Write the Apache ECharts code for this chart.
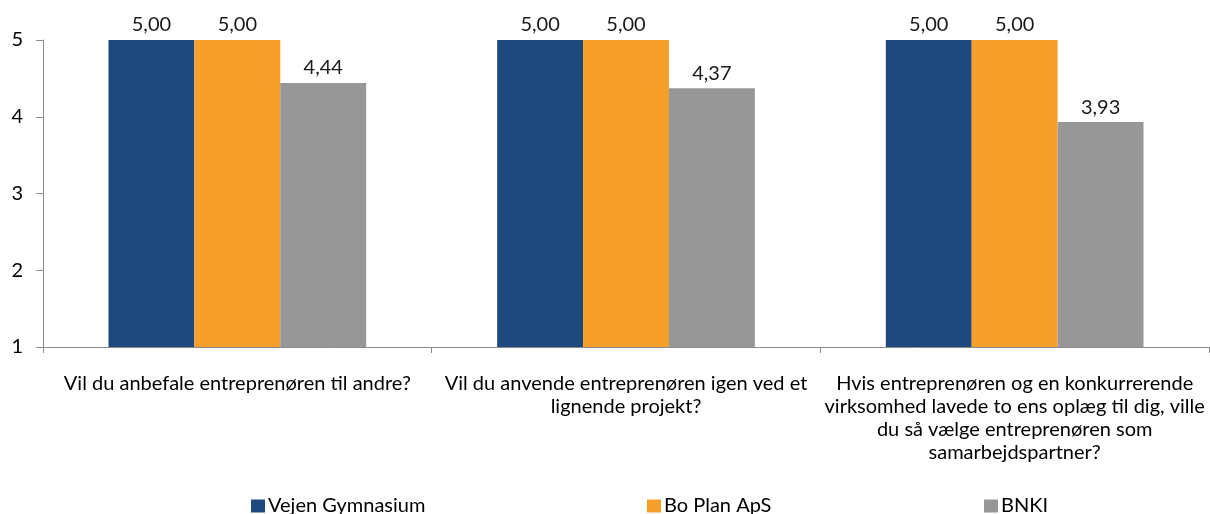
<!DOCTYPE html>
<html lang="da">
<head>
    <meta charset="UTF-8">
    <title>Tilfredshed</title>
    <script type="text/javascript" src="https://cdn.jsdelivr.net/npm/echarts@6/dist/echarts.min.js"></script>
    <style type="text/css">
        html,body{margin:0;padding:0;background:#fff;}
        #main{width:1210px;height:514px;}
    </style>
</head>
<body>
<div id="main"></div>
<script type="text/javascript">
    // spørgsmål (x-akse)
    var categories = [
        'Vil du anbefale entreprenøren til andre?',
        'Vil du anvende entreprenøren igen ved et\nlignende projekt?',
        'Hvis entreprenøren og en konkurrerende\nvirksomhed lavede to ens oplæg til dig, ville\ndu så vælge entreprenøren som\nsamarbejdspartner?'
    ];
    var seriesNames = ['Vejen Gymnasium', 'Bo Plan ApS', 'BNKI'];
    var vejenValues = [5.00, 5.00, 5.00];
    var boPlanValues = [5.00, 5.00, 5.00];
    var bnkiValues = [4.44, 4.37, 3.93];
    var yTicks = [1, 2, 3, 4, 5];

    var colors = ['#1F497D', '#F79F2B', '#979797'];
    var fontName = 'Lato, "Open Sans", sans-serif';
    var axisColor = '#8C8C8C';

    var myChart = echarts.init(document.getElementById('main'));

    function makeSeries(name, data, color) {
        return {
            name: name,
            type: 'bar',
            data: data,
            barGap: '0%',
            barCategoryGap: '33.7%',
            itemStyle: {color: color},
            label: {
                show: true,
                position: 'top',
                distance: 5,
                color: '#1a1a1a',
                fontFamily: fontName,
                fontSize: 20,
                formatter: function (p) {
                    return p.value.toFixed(2).replace('.', ',');
                }
            }
        };
    }

    function makeLegend(name, left) {
        return {
            data: [name],
            left: left,
            top: 491,
            itemWidth: 14,
            itemHeight: 13,
            icon: 'rect',
            textStyle: {color: '#000', fontFamily: fontName, fontSize: 20, padding: [0, 0, 0, -2]}
        };
    }

    var option = {
        animation: false,
        grid: {left: 43, right: 1, top: 40, bottom: 167},
        legend: [
            makeLegend(seriesNames[0], 246),
            makeLegend(seriesNames[1], 642),
            makeLegend(seriesNames[2], 979)
        ],
        xAxis: {
            type: 'category',
            data: categories,
            axisLine: {lineStyle: {color: axisColor, width: 1}},
            axisTick: {show: true, length: 6, lineStyle: {color: axisColor}},
            axisLabel: {
                color: '#000',
                fontFamily: fontName,
                fontSize: 20,
                lineHeight: 23,
                margin: 25,
                interval: 0,
                align: 'center'
            }
        },
        yAxis: {
            type: 'value',
            min: yTicks[0],
            max: yTicks[yTicks.length - 1],
            interval: 1,
            splitLine: {show: false},
            axisLine: {show: true, lineStyle: {color: axisColor, width: 1}},
            axisTick: {show: true, length: 7, lineStyle: {color: axisColor}},
            axisLabel: {
                color: '#000',
                fontFamily: fontName,
                fontSize: 20,
                margin: 20
            }
        },
        series: [
            makeSeries(seriesNames[0], vejenValues, colors[0]),
            makeSeries(seriesNames[1], boPlanValues, colors[1]),
            makeSeries(seriesNames[2], bnkiValues, colors[2])
        ]
    };

    myChart.setOption(option);
</script>
</body>
</html>
